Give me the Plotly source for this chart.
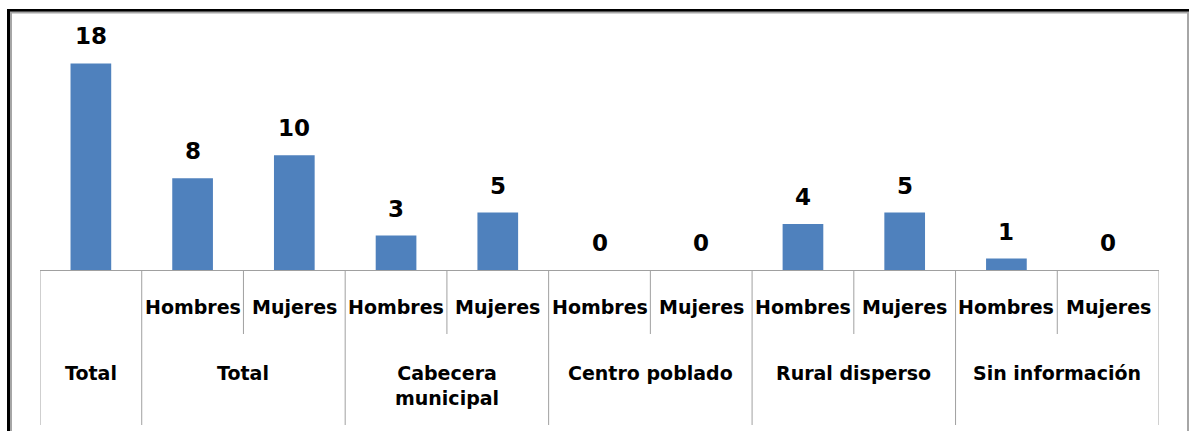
import plotly.graph_objects as go

# Data
zona = ["Total", "Total", "Total", "Cabecera<br>municipal", "Cabecera<br>municipal",
        "Centro poblado", "Centro poblado", "Rural disperso", "Rural disperso",
        "Sin información", "Sin información"]
sexo = ["", "Hombres", "Mujeres", "Hombres", "Mujeres", "Hombres", "Mujeres",
        "Hombres", "Mujeres", "Hombres", "Mujeres"]
valores = [18, 8, 10, 3, 5, 0, 0, 4, 5, 1, 0]

idx = list(range(len(valores)))
bar_color = '#4F81BD'
grid_color = '#A0A0A0'
font_fam = 'DejaVu Sans'

# plot area in pixels (figure is 1189 x 431)
L, R, T, B = 40, 1159, 20, 270


def px(X):
    return (X - L) / (R - L)


def py(Y):
    return (B - Y) / (B - T)


# group runs: first group is the lone "Total" bar, then pairs
grupos = [(0, 0, zona[0])]
i = 1
while i < len(zona):
    j = i
    while j + 1 < len(zona) and zona[j + 1] == zona[i]:
        j += 1
    grupos.append((i, j, zona[i]))
    i = j + 1

fig = go.Figure()

fig.add_trace(go.Bar(
    x=idx,
    y=valores,
    width=0.4,
    marker=dict(color=bar_color, line=dict(width=0)),
    hoverinfo='skip',
    showlegend=False,
))

shapes = []
annotations = []

# value labels
for x, v in zip(idx, valores):
    annotations.append(dict(
        x=x, y=v, xref='x', yref='y', text=f"<b>{v}</b>", showarrow=False,
        yanchor='bottom', yshift=12, font=dict(family=font_fam, size=23, color='black'),
    ))

# category axis table lines
limites_grupo = set()
for a, b, _ in grupos:
    limites_grupo.add(a - 0.5)
    limites_grupo.add(b + 0.5)
for k in range(len(idx) + 1):
    xb = k - 0.5
    y_end = 425 if xb in limites_grupo else 334
    shapes.append(dict(type='line', xref='x', yref='paper', x0=xb, x1=xb,
                       y0=0, y1=py(y_end), line=dict(color=grid_color, width=1)))

# level-1 labels
for x, s in zip(idx, sexo):
    if s:
        annotations.append(dict(
            x=x, y=py(307), xref='x', yref='paper', text=f"<b>{s}</b>", showarrow=False,
            yanchor='middle', font=dict(family=font_fam, size=19, color='black'),
        ))

# level-2 labels
for a, b, z in grupos:
    annotations.append(dict(
        x=(a + b) / 2, y=py(360), xref='x', yref='paper', text=f"<b>{z}</b>", showarrow=False,
        yanchor='top', font=dict(family=font_fam, size=19, color='black'),
    ))

# outer frame
shapes.append(dict(type='rect', xref='paper', yref='paper', x0=px(8.5), x1=px(1200),
                   y0=py(10.5), y1=py(450), line=dict(color='black', width=3)))
shapes.append(dict(type='rect', xref='paper', yref='paper', x0=px(11), x1=px(1188),
                   y0=py(12.5), y1=py(450), line=dict(color='#A6A6A6', width=2)))

fig.update_layout(
    width=1189,
    height=431,
    margin=dict(l=L, r=1189 - R, t=T, b=431 - B, pad=0),
    paper_bgcolor='white',
    plot_bgcolor='white',
    xaxis=dict(range=[-0.5, len(idx) - 0.5], showticklabels=False, showgrid=False,
               zeroline=False, showline=True, linecolor=grid_color, linewidth=1, ticks=''),
    yaxis=dict(range=[0, 21.78], visible=False),
    shapes=shapes,
    annotations=annotations,
    bargap=0.6,
)

fig.write_html("out.html", config={'displayModeBar': False},
               post_script="document.body.style.margin='0';")
